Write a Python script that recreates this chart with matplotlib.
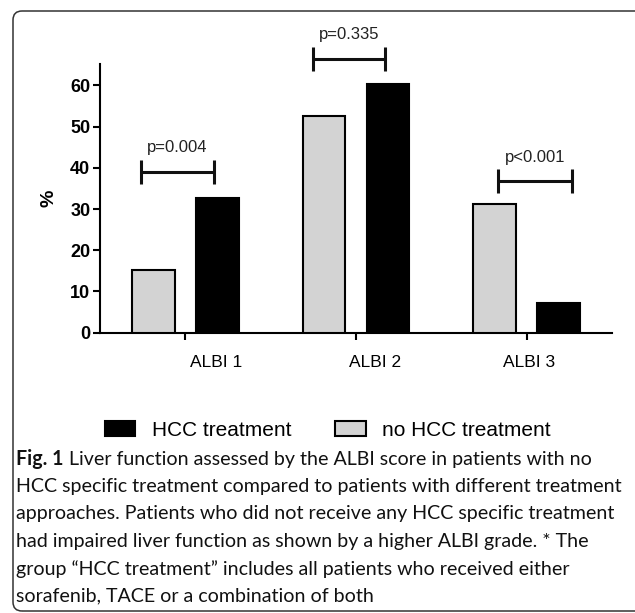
import matplotlib
matplotlib.use("Agg")
import matplotlib.pyplot as plt
from matplotlib.patches import Patch, FancyBboxPatch
from matplotlib.transforms import ScaledTranslation
import numpy as np

# ---------------- data ----------------
categories = ["ALBI 1", "ALBI 2", "ALBI 3"]
no_hcc_treatment = [15.3, 52.6, 31.2]     # grey bars (%)
hcc_treatment = [32.8, 60.3, 7.2]         # black bars (%)
p_labels = ["p=0.004", "p=0.335", "p<0.001"]
bracket_level = [38.9, 66.4, 36.8]        # y of bracket bar (%)
bracket_left = [-0.258, -0.254, -0.166]   # relative to group centre
bracket_right = [0.167, 0.172, 0.264]
p_text_level = [45.0, 72.4, 42.6]
yticks = [0, 10, 20, 30, 40, 50, 60]
label_dx_px = [31, 19, 2]                 # category labels sit right of ticks
caption_bold = "Fig. 1"
caption_lines = [
    " Liver function assessed by the ALBI score in patients with no",
    "HCC specific treatment compared to patients with different treatment",
    "approaches. Patients who did not receive any HCC specific treatment",
    "had impaired liver function as shown by a higher ALBI grade. * The",
    "group \u201cHCC treatment\u201d includes all patients who received either",
    "sorafenib, TACE or a combination of both",
]

W, H = 635, 613
fig = plt.figure(figsize=(W / 100, H / 100), dpi=100)
ax = fig.add_axes([100 / W, 1 - 332.7 / H, 512 / W, (332.7 - 64) / H])

GREY = "#d3d3d3"
x = np.arange(1, len(categories) + 1)
off, bw = 0.187, 0.25
ax.bar(x - off, no_hcc_treatment, width=bw, color=GREY, edgecolor="black", linewidth=1.5, zorder=3)
ax.bar(x + off, hcc_treatment, width=bw, color="black", edgecolor="black", linewidth=1.5, zorder=3)

ax.set_xlim(0.5, 3.5)
ax.set_ylim(0, 65.2)
for s in ["top", "right"]:
    ax.spines[s].set_visible(False)
for s in ["left", "bottom"]:
    ax.spines[s].set_linewidth(1.5)

ax.set_yticks(yticks)
ax.set_yticklabels([str(v) for v in yticks], fontweight="bold", fontsize=13, family="Liberation Sans")
ax.set_xticks(x)
ax.set_xticklabels(categories, fontsize=12.5, family="Liberation Sans")
ax.tick_params(axis="both", direction="out", length=5, width=1.5)
ax.tick_params(axis="y", pad=2)
ax.tick_params(axis="x", pad=11)
for lab, dx in zip(ax.get_xticklabels(), label_dx_px):
    lab.set_transform(lab.get_transform() + ScaledTranslation(dx / 100, 0, fig.dpi_scale_trans))

ax.set_ylabel("%", fontweight="bold", fontsize=14, family="Liberation Sans", labelpad=9)

# significance brackets
for xi, lvl, l, r, lab, ty in zip(x, bracket_level, bracket_left, bracket_right, p_labels, p_text_level):
    x0, x1 = xi + l, xi + r
    ax.plot([x0, x1], [lvl, lvl], color="#111", lw=2.2, clip_on=False, zorder=4, solid_capstyle="butt")
    for xx in (x0, x1):
        ax.plot([xx, xx], [lvl - 2.9, lvl + 2.9], color="#111", lw=2.2, clip_on=False, zorder=4, solid_capstyle="butt")
    ax.text((x0 + x1) / 2, ty, lab, ha="center", va="center", fontsize=12, color="#222",
            family="Liberation Sans", clip_on=False)

# legend
handles = [Patch(facecolor="black", edgecolor="black", linewidth=1.5, label="HCC treatment"),
           Patch(facecolor=GREY, edgecolor="black", linewidth=1.5, label="no HCC treatment")]
fig.legend(handles=handles, loc="center", bbox_to_anchor=(328 / W, 1 - 430 / H), ncol=2, frameon=False,
           prop={"family": "Liberation Sans", "size": 15}, handlelength=1.45, handleheight=0.75,
           handletextpad=0.8, columnspacing=2.1)

# border
border = FancyBboxPatch((13, H - 611), 700, 600, boxstyle="round,pad=0,rounding_size=9",
                        transform=None, fill=False, linewidth=1.1, edgecolor="#333")
fig.add_artist(border)

# caption
renderer = fig.canvas.get_renderer()
x_start, first_width = 16, 577
y_first, line_gap = 459, 27.4

def draw_caption(fs):
    arts = []
    tb = fig.text(x_start / W, 1 - y_first / H, caption_bold, fontweight="bold", family="Lato",
                  fontsize=fs, va="center", ha="left", color="#111")
    arts.append(tb)
    bb = tb.get_window_extent(renderer)
    tr = fig.text(bb.x1 / W, 1 - y_first / H, caption_lines[0], family="Lato", fontsize=fs,
                  va="center", ha="left", color="#111")
    arts.append(tr)
    for i, line in enumerate(caption_lines[1:], start=1):
        arts.append(fig.text(x_start / W, 1 - (y_first + i * line_gap) / H, line, family="Lato",
                             fontsize=fs, va="center", ha="left", color="#111"))
    return arts, tr.get_window_extent(renderer).x1

fs0 = 14
arts, right = draw_caption(fs0)
fs = fs0 * first_width / (right - x_start)
for a in arts:
    a.remove()
draw_caption(fs)

fig.savefig("out.png", dpi=100)
